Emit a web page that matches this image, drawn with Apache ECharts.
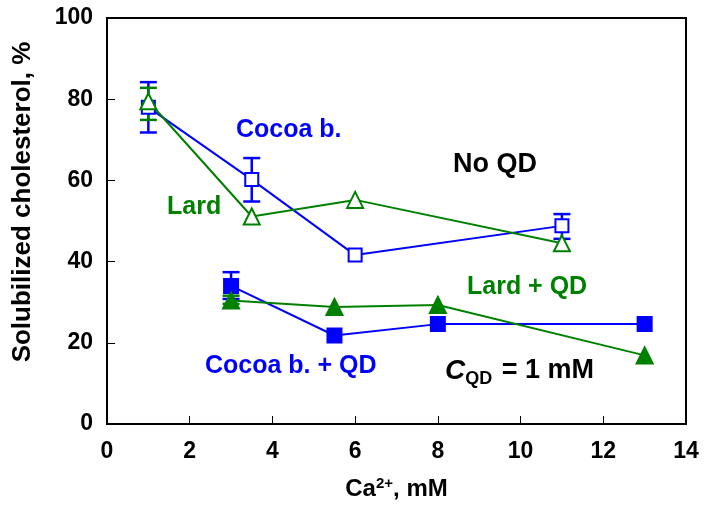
<!DOCTYPE html>
<html><head><meta charset="utf-8">
<script src="https://cdn.jsdelivr.net/npm/echarts@6/dist/echarts.min.js"></script>
<style>html,body{margin:0;padding:0;background:#fff}#c{width:704px;height:512px}</style>
</head><body><div id="c"></div>
<script>
const cocoaX = [1, 3.5, 6, 11];
const cocoaY = [78, 60.2, 41.6, 48.8];
const cocoaErrLow = [71.8, 54.8, null, 45.6];
const cocoaErrHigh = [84.2, 65.5, null, 51.7];

const lardX = [1, 3.5, 6, 11];
const lardY = [79.5, 51.1, 55.2, 44.5];
const lardErrLow = [74.9, null, null, null];
const lardErrHigh = [82.8, null, null, null];

const cocoaQDX = [3, 5.5, 8, 13];
const cocoaQDY = [34, 21.8, 24.6, 24.6];
const cocoaQDErrLow = [30.8, null, null, null];
const cocoaQDErrHigh = [37.4, null, null, null];

const lardQDX = [3, 5.5, 8, 13];
const lardQDY = [30.4, 28.8, 29.3, 16.9];
const lardQDErrLow = [29.6, null, null, null];
const lardQDErrHigh = [31.6, null, null, null];

const xTicks = [0, 2, 4, 6, 8, 10, 12, 14];
const yTicks = [0, 20, 40, 60, 80, 100];

const BLUE = '#0000ff', GREEN = '#008000';
const FONT = '"Liberation Sans", Arial, sans-serif';

function pts(xs, ys) { return xs.map((x, i) => [x, ys[i]]); }
function errData(xs, lo, hi) {
  const out = [];
  xs.forEach((x, i) => { if (lo[i] != null) out.push([x, lo[i], hi[i]]); });
  return out;
}
function errSeries(xs, lo, hi, color) {
  return {
    type: 'custom', z: 1,
    data: errData(xs, lo, hi),
    renderItem: function (params, api) {
      const x = api.value(0);
      const p1 = api.coord([x, api.value(1)]);
      const p2 = api.coord([x, api.value(2)]);
      const w = 8.5;
      return {
        type: 'group',
        children: [
          { type: 'line', shape: { x1: p1[0], y1: p1[1], x2: p2[0], y2: p2[1] }, style: { stroke: color, lineWidth: 2.5 } },
          { type: 'line', shape: { x1: p1[0] - w, y1: p1[1], x2: p1[0] + w, y2: p1[1] }, style: { stroke: color, lineWidth: 2.5 } },
          { type: 'line', shape: { x1: p2[0] - w, y1: p2[1], x2: p2[0] + w, y2: p2[1] }, style: { stroke: color, lineWidth: 2.5 } }
        ]
      };
    }
  };
}
function lineSeries(xs, ys, color, symbol, size, filled) {
  return {
    type: 'line', z: 3,
    data: pts(xs, ys),
    symbol: symbol, symbolSize: size, showAllSymbol: true,
    lineStyle: { color: color, width: 2 },
    itemStyle: { color: filled ? color : '#ffffff', borderColor: color, borderWidth: 2 },
    emphasis: { disabled: true },
    animation: false
  };
}

const chart = echarts.init(document.getElementById('c'));
chart.setOption({
  animation: false,
  backgroundColor: '#fff',
  grid: { left: 107, right: 18, top: 18, bottom: 88, show: true, borderColor: '#000', borderWidth: 2 },
  xAxis: {
    type: 'value', min: 0, max: 14, interval: 2,
    name: '{a|Ca}{s|2+}{a|, mM}', nameLocation: 'middle', nameGap: 52,
    nameTextStyle: { rich: {
      a: { fontFamily: FONT, fontWeight: 'bold', fontSize: 24, color: '#000' },
      s: { fontFamily: FONT, fontWeight: 'bold', fontSize: 15, color: '#000', verticalAlign: 'top', padding: [0, 0, 12, 0] } } },
    axisLine: { lineStyle: { color: '#000', width: 2 } },
    axisTick: { inside: true, length: 8, lineStyle: { color: '#000', width: 1 } },
    axisLabel: { fontFamily: FONT, fontWeight: 'bold', fontSize: 23, color: '#000', margin: 16 },
    splitLine: { show: false }
  },
  yAxis: {
    type: 'value', min: 0, max: 100, interval: 20,
    axisLine: { lineStyle: { color: '#000', width: 2 } },
    axisTick: { inside: true, length: 8, lineStyle: { color: '#000', width: 1 } },
    axisLabel: { fontFamily: FONT, fontWeight: 'bold', fontSize: 23, color: '#000', margin: 14 },
    splitLine: { show: false }
  },
  series: [
    errSeries(cocoaX, cocoaErrLow, cocoaErrHigh, BLUE),
    errSeries(lardX, lardErrLow, lardErrHigh, GREEN),
    errSeries(cocoaQDX, cocoaQDErrLow, cocoaQDErrHigh, BLUE),
    errSeries(lardQDX, lardQDErrLow, lardQDErrHigh, GREEN),
    lineSeries(cocoaX, cocoaY, BLUE, 'rect', 13, false),
    lineSeries(lardX, lardY, GREEN, 'triangle', 16, false),
    lineSeries(cocoaQDX, cocoaQDY, BLUE, 'rect', 14, true),
    lineSeries(lardQDX, lardQDY, GREEN, 'triangle', 16, true)
  ],
  graphic: [
    { type: 'text', x: 23, y: 202, rotation: Math.PI / 2, style: { text: 'Solubilized cholesterol, %', fill: '#000', font: 'bold 26px ' + FONT, align: 'center', verticalAlign: 'middle' } },
    { type: 'text', x: 236, y: 130, style: { text: 'Cocoa b.', fill: BLUE, font: 'bold 25px ' + FONT, align: 'left', verticalAlign: 'middle' } },
    { type: 'text', x: 167, y: 207, style: { text: 'Lard', fill: GREEN, font: 'bold 25px ' + FONT, align: 'left', verticalAlign: 'middle' } },
    { type: 'text', x: 453, y: 165, style: { text: 'No QD', fill: '#000', font: 'bold 27px ' + FONT, align: 'left', verticalAlign: 'middle' } },
    { type: 'text', x: 467, y: 287, style: { text: 'Lard + QD', fill: GREEN, font: 'bold 25px ' + FONT, align: 'left', verticalAlign: 'middle' } },
    { type: 'text', x: 205, y: 366, style: { text: 'Cocoa b. + QD', fill: BLUE, font: 'bold 25px ' + FONT, align: 'left', verticalAlign: 'middle' } },
    { type: 'text', x: 445, y: 371, style: {
      text: '{c|C}{s|QD}{n| = 1 mM}', align: 'left', verticalAlign: 'middle',
      rich: {
        c: { font: 'italic bold 28px ' + FONT, fill: '#000' },
        s: { font: 'bold 18px ' + FONT, fill: '#000', padding: [16, 2, 0, 0] },
        n: { font: 'bold 27px ' + FONT, fill: '#000' }
      } } }
  ]
});
</script></body></html>
